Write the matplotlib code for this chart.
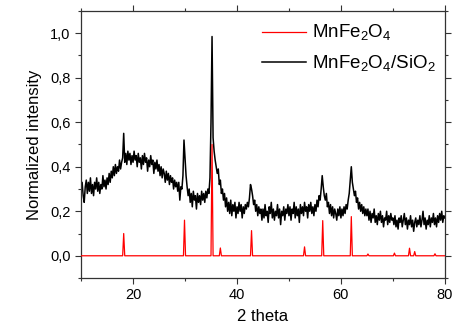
import numpy as np
import matplotlib
matplotlib.use('Agg')
import matplotlib.pyplot as plt
from matplotlib.ticker import MultipleLocator, FuncFormatter

plt.rcParams['font.family'] = ['Liberation Sans', 'DejaVu Sans']

# MnFe2O4 reference pattern (sharp lines on a flat baseline)
ref_x = [10.0,
         18.0, 18.2, 18.4,
         29.7, 29.9, 30.1,
         35.0, 35.2, 35.4,
         36.6, 36.8, 37.0,
         42.6, 42.8, 43.0,
         52.8, 53.0, 53.2,
         56.3, 56.5, 56.7,
         61.8, 62.0, 62.2,
         65.0, 65.2, 65.4,
         70.1, 70.3, 70.5,
         73.0, 73.2, 73.4,
         74.0, 74.2, 74.4,
         77.9, 78.1, 78.3,
         80.0]
ref_y = [0.0,
         0.0, 0.10, 0.0,
         0.0, 0.16, 0.0,
         0.0, 0.50, 0.0,
         0.0, 0.035, 0.0,
         0.0, 0.113, 0.0,
         0.0, 0.04, 0.0,
         0.0, 0.158, 0.0,
         0.0, 0.176, 0.0,
         0.0, 0.008, 0.0,
         0.0, 0.012, 0.0,
         0.0, 0.034, 0.0,
         0.0, 0.019, 0.0,
         0.0, 0.009, 0.0,
         0.0]

# MnFe2O4/SiO2 pattern, sampled every 0.2 deg from 10 to 80
comp_x = np.linspace(10, 80, 351)
comp_y = [
    0.30, 0.33, 0.27, 0.24, 0.31, 0.34, 0.28, 0.33, 0.29, 0.35, 0.28, 0.32, 0.27,
    0.33, 0.30, 0.35, 0.29, 0.33, 0.28, 0.32, 0.30, 0.36, 0.31, 0.34, 0.30,
    0.35, 0.32, 0.37, 0.33, 0.38, 0.35, 0.40, 0.36, 0.41, 0.37, 0.40, 0.38, 0.43,
    0.39, 0.42, 0.44, 0.55, 0.42, 0.46, 0.41, 0.47, 0.43, 0.46, 0.41, 0.45,
    0.42, 0.47, 0.43, 0.45, 0.40, 0.46, 0.42, 0.44, 0.39, 0.45, 0.41, 0.46, 0.42,
    0.44, 0.38, 0.43, 0.40, 0.45, 0.41, 0.43, 0.37, 0.42, 0.39, 0.43, 0.38,
    0.41, 0.36, 0.40, 0.35, 0.39, 0.37, 0.33, 0.38, 0.34, 0.37, 0.32, 0.36, 0.33,
    0.35, 0.30, 0.34, 0.31, 0.33, 0.29, 0.33, 0.25, 0.31, 0.30, 0.36, 0.52,
    0.44, 0.36, 0.31, 0.27, 0.30, 0.24, 0.28, 0.22, 0.29, 0.25, 0.27, 0.21, 0.28,
    0.24, 0.27, 0.23, 0.29, 0.25, 0.28, 0.24, 0.29, 0.26, 0.30, 0.28, 0.35,
    0.60, 0.985, 0.53, 0.47, 0.43, 0.40, 0.37, 0.39, 0.32, 0.34, 0.28, 0.30, 0.25,
    0.28, 0.22, 0.26, 0.20, 0.24, 0.19, 0.25, 0.18, 0.23, 0.20, 0.24, 0.17,
    0.22, 0.19, 0.24, 0.20, 0.23, 0.17, 0.22, 0.19, 0.23, 0.21, 0.24, 0.22, 0.26,
    0.32, 0.30, 0.27, 0.23, 0.25, 0.20, 0.23, 0.18, 0.22, 0.19, 0.21, 0.16,
    0.21, 0.17, 0.23, 0.18, 0.20, 0.15, 0.22, 0.19, 0.24, 0.17, 0.21, 0.16, 0.20,
    0.18, 0.23, 0.17, 0.21, 0.14, 0.20, 0.18, 0.22, 0.16, 0.21, 0.19, 0.23,
    0.18, 0.22, 0.16, 0.21, 0.19, 0.24, 0.17, 0.22, 0.18, 0.21, 0.15, 0.23, 0.19,
    0.22, 0.18, 0.24, 0.20, 0.22, 0.17, 0.23, 0.20, 0.24, 0.19, 0.22, 0.18,
    0.23, 0.20, 0.25, 0.22, 0.27, 0.25, 0.30, 0.36, 0.31, 0.27, 0.25, 0.28, 0.22,
    0.24, 0.19, 0.23, 0.18, 0.22, 0.17, 0.21, 0.19, 0.16, 0.21, 0.18, 0.22,
    0.17, 0.21, 0.18, 0.22, 0.19, 0.23, 0.21, 0.25, 0.28, 0.34, 0.40, 0.33, 0.30,
    0.27, 0.29, 0.24, 0.26, 0.21, 0.24, 0.20, 0.23, 0.19, 0.22, 0.18, 0.21,
    0.18, 0.21, 0.16, 0.20, 0.15, 0.19, 0.17, 0.21, 0.15, 0.18, 0.14, 0.19, 0.16,
    0.20, 0.15, 0.18, 0.13, 0.17, 0.16, 0.20, 0.14, 0.18, 0.15, 0.19, 0.16,
    0.17, 0.14, 0.18, 0.13, 0.16, 0.12, 0.17, 0.15, 0.18, 0.13, 0.16, 0.19, 0.14,
    0.17, 0.12, 0.16, 0.14, 0.18, 0.13, 0.16, 0.11, 0.15, 0.17, 0.13, 0.16,
    0.14, 0.18, 0.13, 0.16, 0.20, 0.14, 0.17, 0.12, 0.16, 0.14, 0.18, 0.13, 0.17,
    0.15, 0.19, 0.14, 0.17, 0.13, 0.18, 0.15, 0.19, 0.16, 0.20, 0.15, 0.18,
    0.17,
]

labels = [r'MnFe$_\mathregular{2}$O$_\mathregular{4}$',
          r'MnFe$_\mathregular{2}$O$_\mathregular{4}$/SiO$_\mathregular{2}$']

fig = plt.figure(figsize=(4.53, 3.31), dpi=100)
ax = fig.add_axes([0.179, 0.160, 0.803, 0.807])

ax.plot(comp_x, comp_y, color='black', lw=1.1, zorder=2, label=labels[1])
ax.plot(ref_x, ref_y, color='red', lw=0.9, zorder=3, label=labels[0])

ax.set_xlim(10, 80)
ax.set_ylim(-0.1, 1.1)
ax.xaxis.set_major_locator(MultipleLocator(20))
ax.xaxis.set_minor_locator(MultipleLocator(10))
ax.yaxis.set_major_locator(MultipleLocator(0.2))
ax.yaxis.set_minor_locator(MultipleLocator(0.1))
ax.yaxis.set_major_formatter(FuncFormatter(lambda v, p: f'{v:.1f}'.replace('.', ',')))

ax.tick_params(which='both', direction='out', top=True, right=True,
               labelsize=10.5, color='#333333', width=0.8)
ax.tick_params(which='major', length=4)
ax.tick_params(which='minor', length=2.5)
for s in ax.spines.values():
    s.set_color('#333333')
    s.set_linewidth(0.9)

ax.set_xlabel('2 theta', fontsize=12, labelpad=5)
ax.set_ylabel('Normalized intensity', fontsize=12, labelpad=6)

h, l = ax.get_legend_handles_labels()
ax.legend(h[::-1], l[::-1], loc='upper left', bbox_to_anchor=(0.465, 1.0),
          frameon=False, fontsize=13.5, handlelength=2.3, handletextpad=0.35,
          labelspacing=0.55, borderaxespad=0.25)

fig.savefig('out.png', dpi=100)
